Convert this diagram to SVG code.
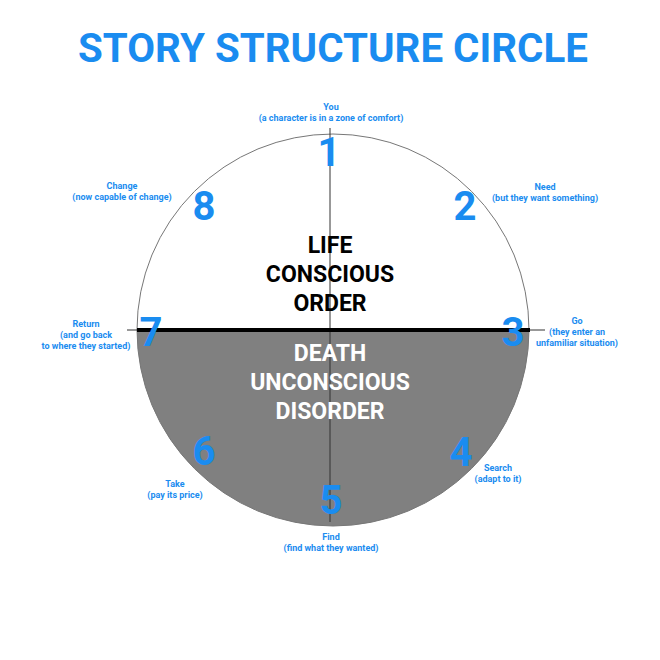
<svg xmlns="http://www.w3.org/2000/svg" width="660" height="660" viewBox="0 0 660 660">
<style>
.t{font-family:Roboto,"Liberation Sans",sans-serif;font-weight:bold}
.n{font-family:Roboto,"Liberation Sans",sans-serif;font-weight:bold;fill:#1a8cf0;font-size:40px;text-anchor:middle}
.l{font-family:Roboto,"Liberation Sans",sans-serif;font-weight:bold;fill:#1a8cf0;font-size:9px;text-anchor:middle}
.c{font-family:Roboto,"Liberation Sans",sans-serif;font-weight:bold;font-size:23px;text-anchor:middle}
</style>
<rect width="660" height="660" fill="#fff"/>
<text class="t" x="333" y="62" font-size="40" fill="#1a8cf0" text-anchor="middle" textLength="510" lengthAdjust="spacingAndGlyphs">STORY STRUCTURE CIRCLE</text>
<g id="circle">
<path d="M137,330 A196,196 0 0 0 529,330 Z" fill="#808080"/>
<circle cx="333" cy="330" r="196" fill="none" stroke="#777" stroke-width="1"/>
</g>
<g id="connectors">
<line x1="330" y1="128" x2="330" y2="522" stroke="#333" stroke-width="1"/>
<line x1="127" y1="330" x2="545" y2="330" stroke="#333" stroke-width="1"/>
<line x1="137" y1="330" x2="530" y2="330" stroke="#000" stroke-width="4"/>
</g>
<g id="halves">
<text class="c" x="330" y="253" fill="#000">LIFE</text>
<text class="c" x="330" y="282" fill="#000">CONSCIOUS</text>
<text class="c" x="330" y="311" fill="#000">ORDER</text>
<text class="c" x="330" y="361" fill="#fff">DEATH</text>
<text class="c" x="330" y="390" fill="#fff">UNCONSCIOUS</text>
<text class="c" x="330" y="419" fill="#fff">DISORDER</text>
</g>
<g id="n1"><text class="n" x="329" y="166">1</text><text class="l" x="331" y="110">You</text><text class="l" x="331" y="121">(a character is in a zone of comfort)</text></g>
<g id="n2"><text class="n" x="465" y="220">2</text><text class="l" x="545" y="190">Need</text><text class="l" x="545" y="201">(but they want something)</text></g>
<g id="n3"><text class="n" x="513" y="346">3</text><text class="l" x="577" y="324">Go</text><text class="l" x="577" y="335">(they enter an</text><text class="l" x="577" y="346">unfamiliar situation)</text></g>
<g id="n4"><text class="n" x="461" y="466">4</text><text class="l" x="498" y="471">Search</text><text class="l" x="498" y="482">(adapt to it)</text></g>
<g id="n5"><text class="n" x="331" y="514">5</text><text class="l" x="331" y="540">Find</text><text class="l" x="331" y="551">(find what they wanted)</text></g>
<g id="n6"><text class="n" x="204" y="465">6</text><text class="l" x="175" y="487">Take</text><text class="l" x="175" y="498">(pay its price)</text></g>
<g id="n7"><text class="n" x="151" y="346">7</text><text class="l" x="86" y="327">Return</text><text class="l" x="86" y="338">(and go back</text><text class="l" x="86" y="349">to where they started)</text></g>
<g id="n8"><text class="n" x="204" y="220">8</text><text class="l" x="122" y="189">Change</text><text class="l" x="122" y="200">(now capable of change)</text></g>
</svg>
